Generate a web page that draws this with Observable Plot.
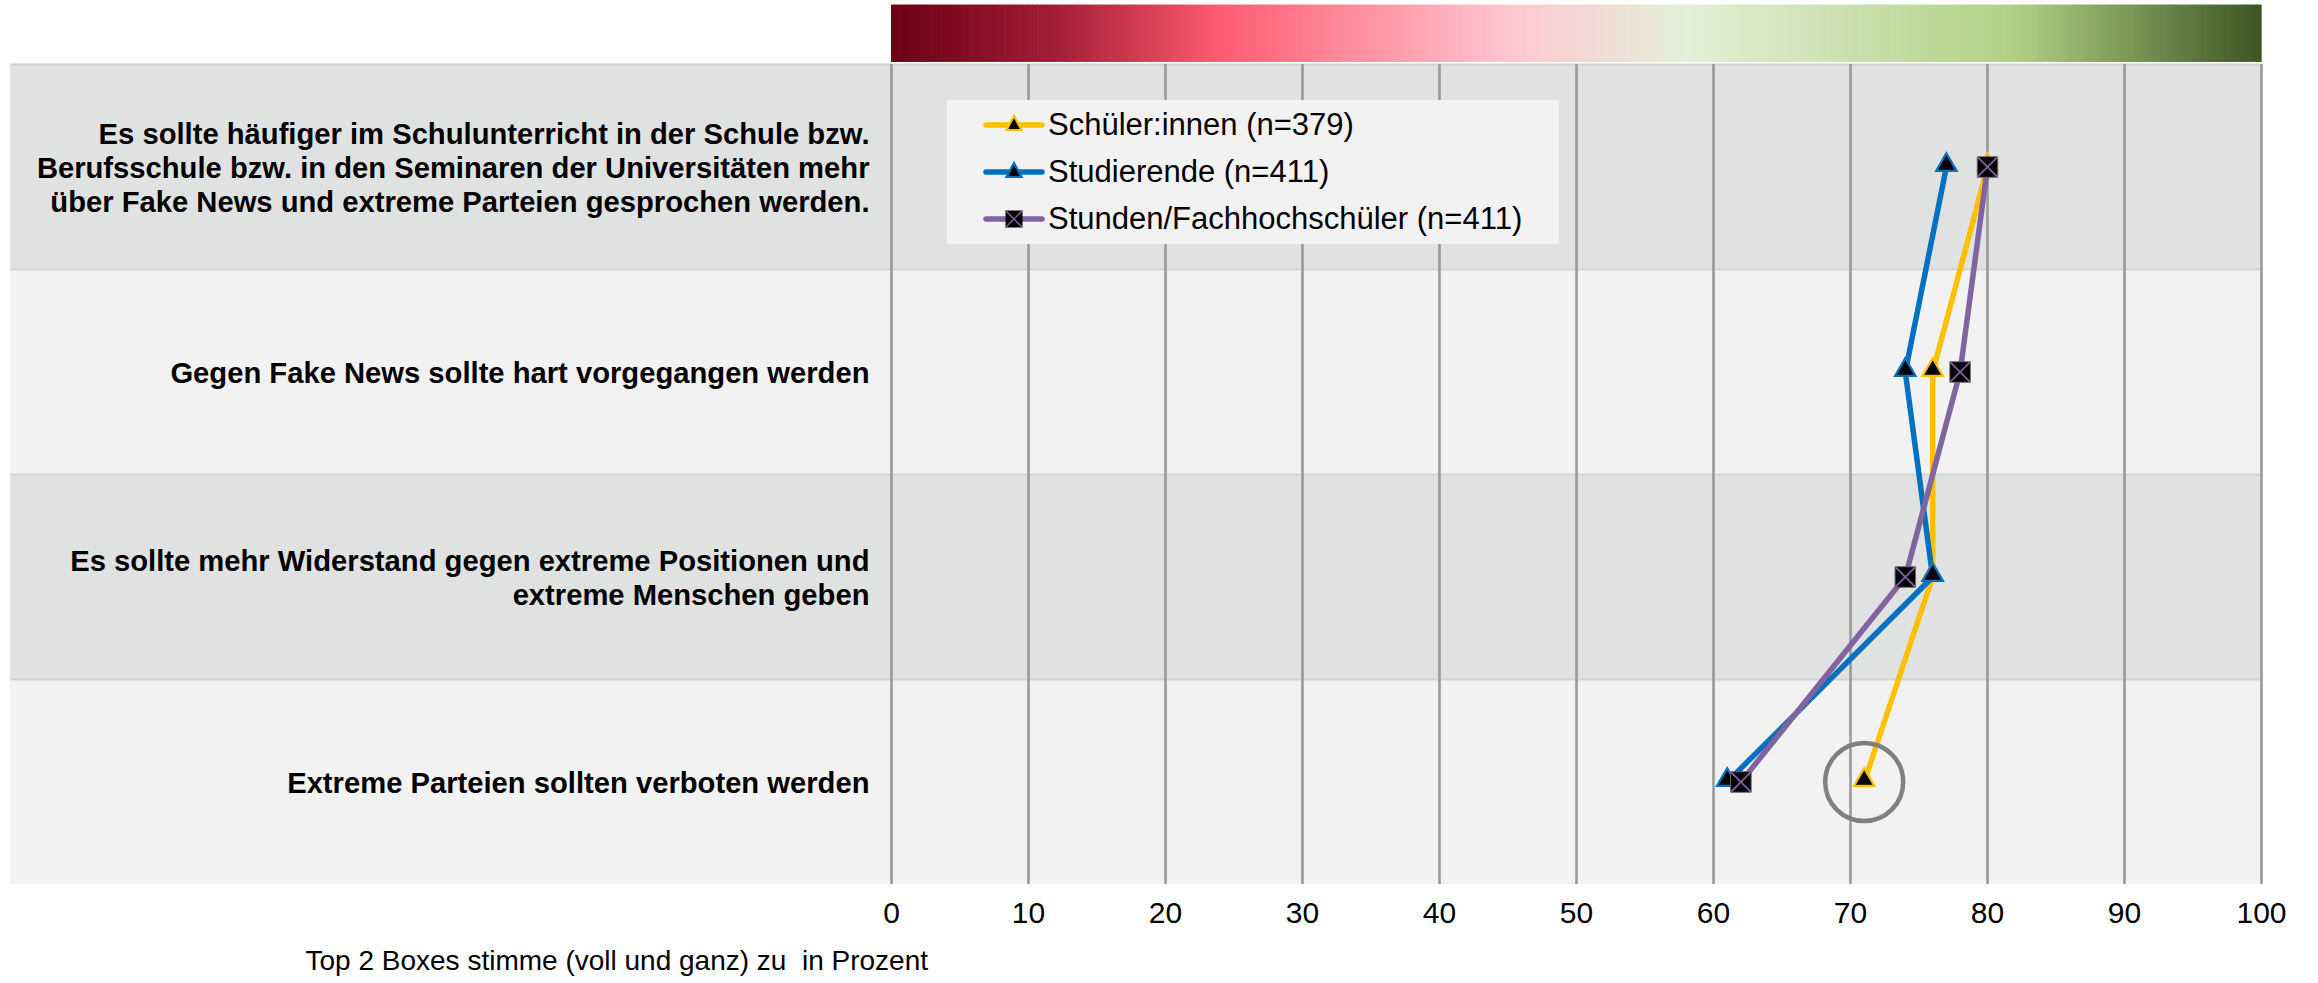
<!DOCTYPE html>
<html>
<head>
<meta charset="utf-8">
<script src="https://cdn.jsdelivr.net/npm/d3@7"></script>
<script src="https://cdn.jsdelivr.net/npm/@observablehq/plot@0.6"></script>
<style>
  body { margin: 0; background: #ffffff; font-family: "Liberation Sans", Arial, sans-serif; }
  #wrap { position: relative; width: 2318px; height: 983px; overflow: hidden; }
  #legend { position: absolute; left: 947px; top: 100px; width: 612px; height: 144px; background: #f2f2f2; }
  .item { position: absolute; left: 0; height: 40px; display: flex; align-items: center; font-size: 31px; color: #000; white-space: nowrap; }
  .item svg { margin-left: 36px; margin-right: 3px; }
</style>
</head>
<body>
<div id="wrap"><div id="legend"></div></div>
<script>
// ---------- data ----------
const categories = [
  "Es sollte häufiger im Schulunterricht in der Schule bzw.\nBerufsschule bzw. in den Seminaren der Universitäten mehr\nüber Fake News und extreme Parteien gesprochen werden.",
  "Gegen Fake News sollte hart vorgegangen werden",
  "Es sollte mehr Widerstand gegen extreme Positionen und\nextreme Menschen geben",
  "Extreme Parteien sollten verboten werden"
];
const seriesNames = ["Schüler:innen (n=379)", "Studierende (n=411)", "Stunden/Fachhochschüler (n=411)"];
const seriesColors = ["#FFC000", "#0070C0", "#8064A2"];
const seriesMarkers = ["triangle", "triangle", "squareX"];
const schuelerValues = [80, 76, 76, 71];
const studierendeValues = [77, 74, 76, 61];
const stundenValues = [80, 78, 74, 62];
const xTicks = [0, 10, 20, 30, 40, 50, 60, 70, 80, 90, 100];
const xTitle = "Top 2 Boxes stimme (voll und ganz) zu\u00a0 in Prozent";
const gradientStopPos = [0, 0.12, 0.24, 0.45, 0.58, 0.82, 1];
const gradientStopColors = ["#6b0015", "#a21d35", "#ff5b73", "#ffc7cf", "#e3efd8", "#b0d184", "#3d5523"];
const bandColors = ["#e0e1e1", "#f2f2f2"];
const highlightSeries = 0, highlightRow = 3;

// ---------- derived tables ----------
const seriesValues = [schuelerValues, studierendeValues, stundenValues];
const points = seriesValues.map((vals, s) => vals.map((v, i) => ({s, i, value: v})));
const rows = categories.map((c, i) => ({i, label: c, fill: bandColors[i % 2]}));
const gradColor = d3.scaleLinear().domain(gradientStopPos).range(gradientStopColors).interpolate(d3.interpolateRgb);
const nSlices = 300;
const gradientSlices = d3.range(nSlices).map(k => ({
  x1: 100 * k / nSlices, x2: 100 * (k + 1) / nSlices + 0.05, fill: gradColor((k + 0.5) / nSlices)
}));
const bandLeft = -64.3;   // band extends left under the row labels
const gradTop = -0.29, gradBottom = -0.01;

const squareX = {
  draw(ctx, size) {
    const h = Math.sqrt(size) / 2;
    ctx.moveTo(-h, -h); ctx.lineTo(h, h);
    ctx.moveTo(h, -h); ctx.lineTo(-h, h);
  }
};

const marks = [
  Plot.rect(gradientSlices, {x1: "x1", x2: "x2", y1: gradTop, y2: gradBottom, fill: "fill"}),
  Plot.rect(rows, {x1: bandLeft, x2: 100, y1: d => d.i, y2: d => d.i + 1, fill: "fill"}),
  Plot.ruleY([0, 1, 2, 3], {x1: bandLeft, x2: 100, stroke: "#d3d3d3", strokeWidth: 2}),
  Plot.ruleX(xTicks, {x: d => d, y1: 0, y2: 4, stroke: "#999999", strokeWidth: 2.6}),
];
// lines
points.forEach((pts, s) => {
  marks.push(Plot.line(pts, {x: "value", y: d => d.i + 0.5, stroke: seriesColors[s], strokeWidth: 5.5, strokeLinejoin: "round"}));
});
// markers
points.forEach((pts, s) => {
  if (seriesMarkers[s] === "triangle") {
    marks.push(Plot.dot(pts, {x: "value", y: d => d.i + 0.5, symbol: "triangle", r: 7.6, fill: "#000", stroke: seriesColors[s], strokeWidth: 2.2, dy: -2}));
  } else {
    marks.push(Plot.dot(pts, {x: "value", y: d => d.i + 0.5, symbol: "square", r: 11.6, fill: "#000", stroke: "#6e6e6e", strokeWidth: 1}));
    marks.push(Plot.dot(pts, {x: "value", y: d => d.i + 0.5, symbol: squareX, r: 11.1, fill: "none", stroke: seriesColors[s], strokeWidth: 1.7}));
  }
});
// highlight circle
marks.push(Plot.dot([points[highlightSeries][highlightRow]], {x: "value", y: d => d.i + 0.5, r: 39, fill: "none", stroke: "#808080", strokeWidth: 4.5}));
// row labels
marks.push(Plot.text(rows, {y: d => d.i + 0.5, text: "label", frameAnchor: "left", dx: -22, textAnchor: "end", fontSize: 29.2, fontWeight: "bold", lineHeight: 1.17, fill: "#000"}));
// x tick labels
marks.push(Plot.text(xTicks, {x: d => d, text: d => String(d), frameAnchor: "bottom", dy: 38, fontSize: 30, fill: "#000"}));
// x axis title
marks.push(Plot.text([xTitle], {text: d => d, frameAnchor: "bottom-left", dx: -586, dy: 85, textAnchor: "start", fontSize: 28, fill: "#000"}));

const chart = Plot.plot({
  width: 2318,
  height: 983,
  marginLeft: 891,
  marginRight: 57,
  marginTop: 64,
  marginBottom: 99,
  x: {domain: [0, 100], axis: null},
  y: {domain: [0, 4], reverse: true, axis: null},
  color: {type: "identity"},
  style: {fontFamily: "'Liberation Sans', Arial, sans-serif", background: "transparent", overflow: "visible"},
  marks
});
const wrap = document.getElementById("wrap");
wrap.insertBefore(chart, wrap.firstChild);

// ---------- legend ----------
const legend = document.getElementById("legend");
const centers = [25, 72, 119];
seriesNames.forEach((name, s) => {
  const item = document.createElement("div");
  item.className = "item";
  item.style.top = (centers[s] - 20) + "px";
  const ns = "http://www.w3.org/2000/svg";
  const sw = document.createElementNS(ns, "svg");
  sw.setAttribute("width", 62); sw.setAttribute("height", 40);
  const line = document.createElementNS(ns, "line");
  line.setAttribute("x1", 3); line.setAttribute("x2", 59); line.setAttribute("y1", 20); line.setAttribute("y2", 20);
  line.setAttribute("stroke", seriesColors[s]); line.setAttribute("stroke-width", 5.5); line.setAttribute("stroke-linecap", "round");
  sw.appendChild(line);
  if (seriesMarkers[s] === "triangle") {
    const p = document.createElementNS(ns, "path");
    p.setAttribute("d", "M31,11 L38.5,25 L23.5,25 Z");
    p.setAttribute("fill", "#000"); p.setAttribute("stroke", seriesColors[s]); p.setAttribute("stroke-width", 2.2);
    sw.appendChild(p);
  } else {
    const r = document.createElementNS(ns, "rect");
    r.setAttribute("x", 22.5); r.setAttribute("y", 11.5); r.setAttribute("width", 17); r.setAttribute("height", 17);
    r.setAttribute("fill", "#000");
    sw.appendChild(r);
    const x = document.createElementNS(ns, "path");
    x.setAttribute("d", "M22.5,11.5 L39.5,28.5 M39.5,11.5 L22.5,28.5");
    x.setAttribute("stroke", seriesColors[s]); x.setAttribute("stroke-width", 1.4);
    sw.appendChild(x);
  }
  item.appendChild(sw);
  const t = document.createElement("span");
  t.textContent = name;
  item.appendChild(t);
  legend.appendChild(item);
});
</script>
</body>
</html>
